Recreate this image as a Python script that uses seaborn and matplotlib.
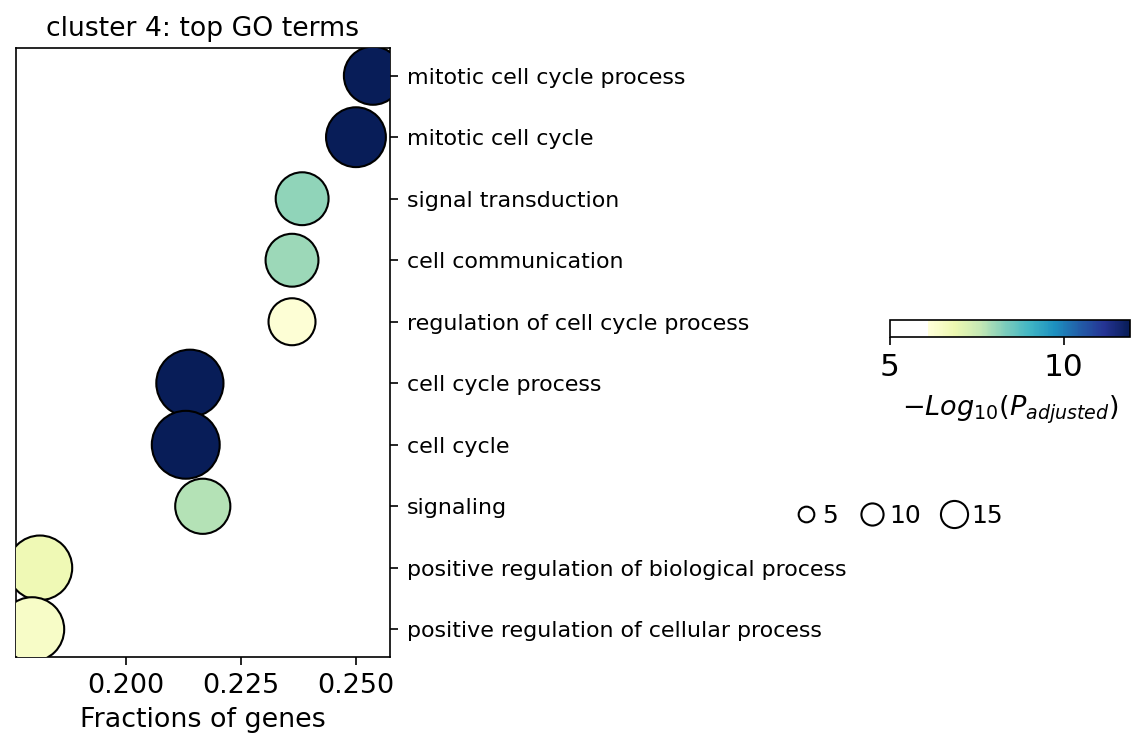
import numpy as np
import pandas as pd
import matplotlib
matplotlib.use("Agg")
import matplotlib.pyplot as plt
import seaborn as sns
from matplotlib.colors import ListedColormap, Normalize
from matplotlib.lines import Line2D

terms = [
    "mitotic cell cycle process",
    "mitotic cell cycle",
    "signal transduction",
    "cell communication",
    "regulation of cell cycle process",
    "cell cycle process",
    "cell cycle",
    "signaling",
    "positive regulation of biological process",
    "positive regulation of cellular process",
]
fractions = [0.2537, 0.2500, 0.2383, 0.2361, 0.2361, 0.2139, 0.2130, 0.2167, 0.1813, 0.1796]
neglog_padj = [12.5, 12.2, 8.1, 8.0, 6.2, 12.4, 12.6, 7.75, 6.8, 6.45]
gene_counts = [69, 73, 57, 57, 45, 92, 94, 62, 85, 84]
legend_counts = [5, 10, 15]

sns.set_style("white")
plt.rcParams["font.family"] = ["DejaVu Sans"]
for k in ["text.color", "axes.labelcolor", "xtick.color", "ytick.color", "axes.edgecolor"]:
    plt.rcParams[k] = "black"

# colormap: white lower segment followed by YlGnBu
base = sns.color_palette("YlGnBu", as_cmap=True)
n_white = 41
cols = np.vstack([np.ones((n_white, 4)), base(np.linspace(0, 1, 215))])
cmap = ListedColormap(cols)
vmin, vmax = 5.0, 11.9
norm = Normalize(vmin=vmin, vmax=vmax)

df = pd.DataFrame({"term": terms, "frac": fractions, "p": neglog_padj, "n": gene_counts})
df["y"] = np.arange(len(df))
df["color"] = [cmap(norm(v)) for v in df["p"]]

size_k = 11.3  # points^2 per gene

fig = plt.figure(figsize=(1145 / 150, 749 / 150), dpi=150)
ax = fig.add_axes([16 / 1145, 1 - 657 / 749, 374 / 1145, 609 / 749])

sns.scatterplot(data=df, x="frac", y="y", size="n", sizes=(0, size_k * 100),
                size_norm=(0, 100), c=df["color"].tolist(), edgecolor="black",
                linewidth=1.0, legend=False, ax=ax, zorder=3, clip_on=True)

ax.set_xlim(0.1761, 0.2574)
ax.set_ylim(len(df) - 1 + 0.45, -0.45)
ax.set_xticks([0.200, 0.225, 0.250])
ax.set_xticklabels(["0.200", "0.225", "0.250"])
ax.set_yticks(df["y"])
ax.set_yticklabels(terms)
ax.yaxis.tick_right()
ax.tick_params(axis="y", which="both", right=True, left=False, length=4, width=0.8,
               labelsize=10.6, pad=4)
ax.tick_params(axis="x", which="both", bottom=True, length=4, width=0.8, labelsize=13)
ax.set_xlabel("Fractions of genes", fontsize=12.9)
ax.set_ylabel("")
ax.set_title("cluster 4: top GO terms", fontsize=12.8)
for s in ax.spines.values():
    s.set_linewidth(0.8)
    s.set_color("black")

# colorbar
cax = fig.add_axes([890 / 1145, 1 - 337 / 749, 240 / 1145, 17 / 749])
sm = plt.cm.ScalarMappable(cmap=cmap, norm=norm)
cb = fig.colorbar(sm, cax=cax, orientation="horizontal")
cb.set_ticks([5, 10])
cb.ax.tick_params(labelsize=15, length=4, width=0.8)
cb.outline.set_linewidth(0.8)
cb.set_label(r"$-Log_{10}(P_{adjusted})$", fontsize=13, labelpad=6)

# size legend
handles = [Line2D([], [], linestyle="none", marker="o", markerfacecolor="white",
                  markeredgecolor="black", markeredgewidth=1.0,
                  markersize=np.sqrt(size_k * c)) for c in legend_counts]
fig.legend(handles, [str(c) for c in legend_counts], loc="center",
           bbox_to_anchor=(898 / 1145, 1 - 516 / 749), ncol=3, frameon=False,
           fontsize=12, handletextpad=0.17, columnspacing=0.85, handlelength=1.0)

fig.savefig("out.png", dpi=150)
